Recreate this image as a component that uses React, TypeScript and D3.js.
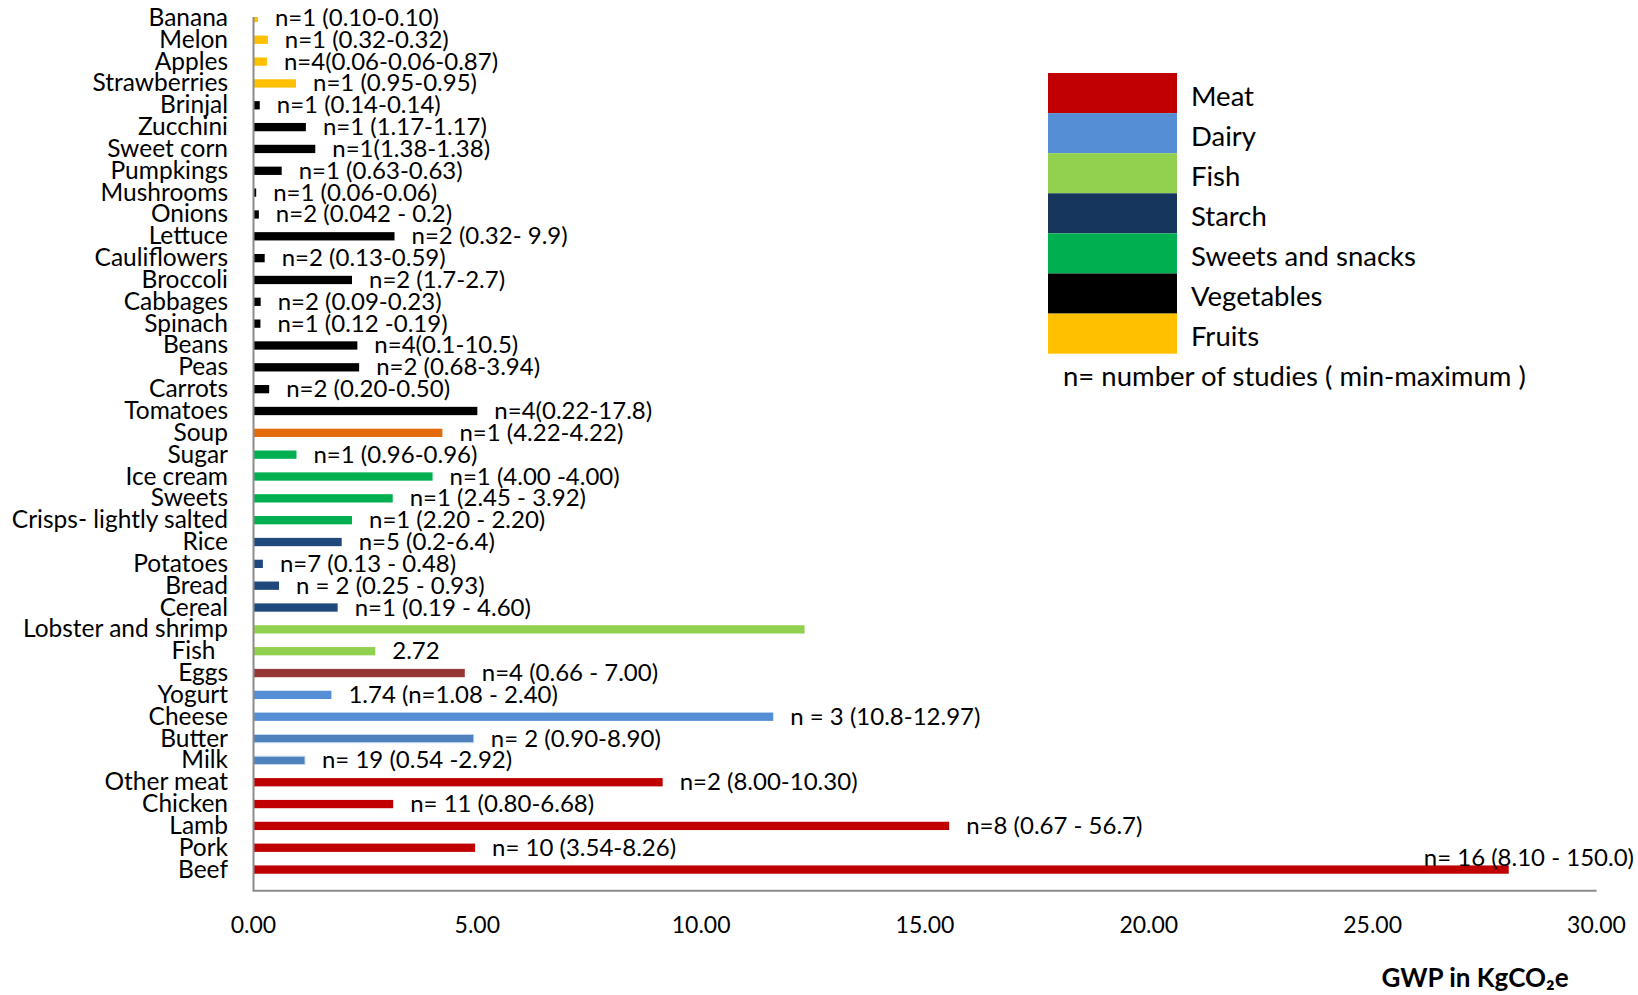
import React from "react";
import * as d3 from "d3";

// Food items, top to bottom
const categories = [
  "Banana", "Melon", "Apples", "Strawberries", "Brinjal", "Zucchini", "Sweet corn",
  "Pumpkings", "Mushrooms", "Onions", "Lettuce", "Cauliflowers", "Broccoli", "Cabbages",
  "Spinach", "Beans", "Peas", "Carrots", "Tomatoes", "Soup", "Sugar", "Ice cream",
  "Sweets", "Crisps- lightly salted", "Rice", "Potatoes", "Bread", "Cereal",
  "Lobster and shrimp", "Fish  ", "Eggs", "Yogurt", "Cheese", "Butter", "Milk",
  "Other meat", "Chicken", "Lamb", "Pork", "Beef",
];

// GWP in kg CO2e per item
const gwpValues = [
  0.1, 0.32, 0.3, 0.95, 0.14, 1.17, 1.38,
  0.63, 0.06, 0.12, 3.15, 0.25, 2.2, 0.16,
  0.155, 2.32, 2.36, 0.35, 5.0, 4.22, 0.96, 4.0,
  3.11, 2.2, 1.97, 0.21, 0.57, 1.88,
  12.31, 2.72, 4.72, 1.74, 11.61, 4.92, 1.15,
  9.14, 3.12, 15.54, 4.95, 28.04,
];

// Colour group of each item
const groups = [
  "fruit", "fruit", "fruit", "fruit", "veg", "veg", "veg",
  "veg", "veg", "veg", "veg", "veg", "veg", "veg",
  "veg", "veg", "veg", "veg", "veg", "soup", "sweets", "sweets",
  "sweets", "sweets", "starch", "starch", "starch", "starch",
  "fish", "fish", "eggs", "dairy", "dairy", "dairy2", "dairy2",
  "meat", "meat", "meat", "meat", "meat",
];

// Study count and min-max range next to each bar
const barLabels = [
  "n=1 (0.10-0.10)", "n=1 (0.32-0.32)", "n=4(0.06-0.06-0.87)", "n=1 (0.95-0.95)",
  "n=1 (0.14-0.14)", "n=1 (1.17-1.17)", "n=1(1.38-1.38)", "n=1 (0.63-0.63)",
  "n=1 (0.06-0.06)", "n=2 (0.042 - 0.2)", "n=2 (0.32- 9.9)", "n=2 (0.13-0.59)",
  "n=2 (1.7-2.7)", "n=2 (0.09-0.23)", "n=1 (0.12 -0.19)", "n=4(0.1-10.5)",
  "n=2 (0.68-3.94)", "n=2 (0.20-0.50)", "n=4(0.22-17.8)", "n=1 (4.22-4.22)",
  "n=1 (0.96-0.96)", "n=1 (4.00 -4.00)", "n=1 (2.45 - 3.92)", "n=1 (2.20 - 2.20)",
  "n=5 (0.2-6.4)", "n=7 (0.13 - 0.48)", "n = 2 (0.25 - 0.93)", "n=1 (0.19 - 4.60)",
  "", "2.72", "n=4 (0.66 - 7.00)", "1.74 (n=1.08 - 2.40)",
  "n = 3 (10.8-12.97)", "n= 2 (0.90-8.90)", "n= 19 (0.54 -2.92)", "n=2 (8.00-10.30)",
  "n= 11 (0.80-6.68)", "n=8 (0.67 - 56.7)", "n= 10 (3.54-8.26)", "n= 16 (8.10 - 150.0)",
];

const xTicks = [0, 5, 10, 15, 20, 25, 30];

const legendNames = ["Meat", "Dairy", "Fish", "Starch", "Sweets and snacks", "Vegetables", "Fruits"];
const legendColors = ["#C00000", "#558ED5", "#92D050", "#17365D", "#00B050", "#000000", "#FFC000"];

const groupColors: Record<string, string> = {
  fruit: "#FFC000",
  veg: "#000000",
  soup: "#E46C0A",
  sweets: "#00B050",
  starch: "#1F497D",
  fish: "#92D050",
  eggs: "#953735",
  dairy: "#558ED5",
  dairy2: "#4F81BD",
  meat: "#C00000",
};

const W = 1638;
const H = 995;
const FONT = "Lato, 'Open Sans', sans-serif";

export default function App() {
  const axisX = 253.5;
  const axisY = 890.7;
  const plotTop = 17;

  const x = d3.scaleLinear().domain([0, 30]).range([axisX, 1596.5]);
  const y = d3
    .scaleBand<string>()
    .domain(categories)
    .range([7, 880.5])
    .paddingInner(0.62)
    .paddingOuter(0.31);

  const bw = y.bandwidth();
  const last = categories.length - 1;
  const mid = (c: string) => (y(c) as number) + bw / 2 - 1.5;

  return (
    <svg width={W} height={H} style={{ display: "block", background: "#fff", fontFamily: FONT }}>
      <style>{`body{margin:0}`}</style>
      <defs>
        <clipPath id="plotClip">
          <rect x={axisX} y={plotTop} width={W - axisX} height={axisY - plotTop} />
        </clipPath>
      </defs>

      {/* bars */}
      <g clipPath="url(#plotClip)">
        {categories.map((c, i) => (
          <rect
            key={c}
            x={x(0)}
            y={y(c)}
            width={x(gwpValues[i]) - x(0)}
            height={bw}
            fill={groupColors[groups[i]]}
            stroke={groups[i] === "dairy2" ? "#C6D9F1" : "none"}
            strokeWidth={1}
          />
        ))}
      </g>

      {/* category labels */}
      <g fontSize={24.5} fill="#000" textAnchor="end">
        {categories.map((c) => (
          <text key={c} x={228} y={mid(c)} dominantBaseline="central" style={{ whiteSpace: "pre" }}>
            {c}
          </text>
        ))}
      </g>

      {/* value labels */}
      <g fontSize={24} fill="#000">
        {categories.map((c, i) =>
          i === last || !barLabels[i] ? null : (
            <text key={c} x={x(gwpValues[i]) + 17} y={mid(c)} dominantBaseline="central">
              {barLabels[i]}
            </text>
          )
        )}
        <text
          x={W - 4}
          y={mid(categories[last]) - 12}
          textAnchor="end"
          dominantBaseline="central"
        >
          {barLabels[last]}
        </text>
      </g>

      {/* axes */}
      <line x1={axisX} x2={axisX} y1={plotTop} y2={axisY + 1} stroke="#8C8C8C" strokeWidth={2} />
      <line x1={axisX} x2={x(30)} y1={axisY} y2={axisY} stroke="#8C8C8C" strokeWidth={2} />

      <g fontSize={23} fill="#000" textAnchor="middle">
        {xTicks.map((t) => (
          <text key={t} x={x(t)} y={924} dominantBaseline="central">
            {d3.format(".2f")(t)}
          </text>
        ))}
      </g>

      <text x={1475} y={987} textAnchor="middle" fontSize={26} fontWeight="bold" fill="#000">
        GWP in KgCO₂e
      </text>

      {/* legend */}
      <g>
        {legendNames.map((n, i) => (
          <g key={n}>
            <rect x={1048} y={73 + i * 40.1} width={129} height={40.1} fill={legendColors[i]} />
            <text x={1191} y={73 + i * 40.1 + 22} fontSize={27.5} dominantBaseline="central" fill="#000">
              {n}
            </text>
          </g>
        ))}
        <text x={1063} y={375} fontSize={27.5} dominantBaseline="central" fill="#000">
          n= number of studies ( min-maximum )
        </text>
      </g>
    </svg>
  );
}
